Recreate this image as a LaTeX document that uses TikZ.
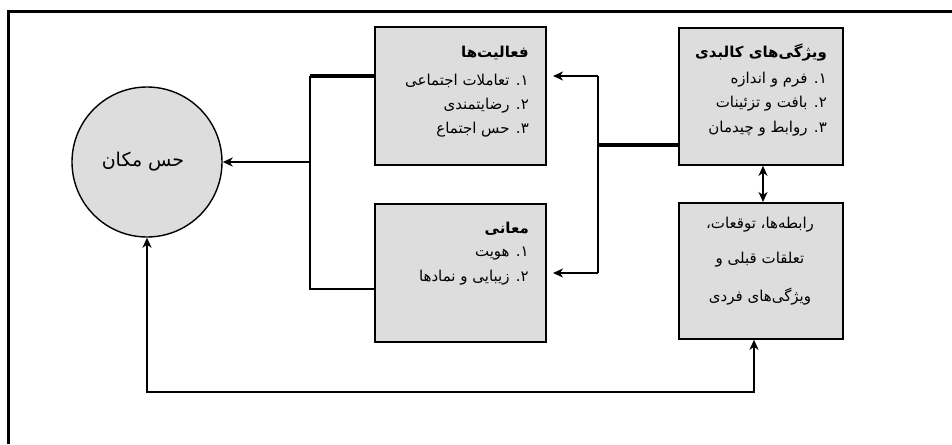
\documentclass[tikz,border=0pt]{standalone}
\usepackage{fontspec}
\usetikzlibrary{arrows.meta,calc}
\TeXXeTstate=1
\newfontfamily\fa[Script=Arabic]{DejaVu Sans}
\definecolor{boxgray}{RGB}{221,221,221}
\begin{document}
\begin{tikzpicture}[x=1pt,y=-1pt,
  box/.style={draw=black, fill=boxgray, line width=1.8pt, anchor=north west, inner sep=0pt},
  tx/.style={inner sep=0pt, font=\fa\fontsize{15}{17}\selectfont},
  ttl/.style={inner sep=0pt, font=\fa\bfseries\fontsize{15}{17}\selectfont},
  ln/.style={line width=2pt},
  thk/.style={line width=3.4pt},
  tip/.style={-{Stealth[length=10pt,width=9pt,inset=3pt]}},
  bothtip/.style={{Stealth[length=10pt,width=9pt,inset=3pt]}-{Stealth[length=10pt,width=9pt,inset=3pt]}}
]
\useasboundingbox (0,0) rectangle (952,444);
\fill[white] (0,0) rectangle (952,444);
\draw[line width=3pt] (8,444) -- (8,12) -- (952,12);

% boxes
\node[box, minimum width=171pt, minimum height=138pt] (act) at (374,26) {};
\node[box, minimum width=171pt, minimum height=138pt] (mean) at (374,203) {};
\node[box, minimum width=164pt, minimum height=137pt] (phys) at (678,27) {};
\node[box, minimum width=164pt, minimum height=136pt] (pers) at (678,202) {};
\node[circle, draw=black, fill=boxgray, line width=1.4pt, minimum size=150pt, inner sep=0pt] (sense) at (147,162) {};

% texts
\node[ttl, anchor=east] (act0) at (529,53) {\beginR فعالیت‌ها\endR};
\node[tx, anchor=east] (act1) at (529,81) {\beginR ۱. تعاملات اجتماعی\endR};
\node[tx, anchor=east] (act2) at (529,106) {\beginR ۲. رضایتمندی\endR};
\node[tx, anchor=east] (act3) at (529,130) {\beginR ۳. حس اجتماع\endR};

\node[ttl, anchor=east] (mean0) at (529,229) {\beginR معانی\endR};
\node[tx, anchor=east] (mean1) at (529,254) {\beginR ۱. هویت\endR};
\node[tx, anchor=east] (mean2) at (529,278) {\beginR ۲. زیبایی و نمادها\endR};

\node[ttl, anchor=east] (phys0) at (827,53) {\beginR ویژگی‌های کالبدی\endR};
\node[tx, anchor=east] (phys1) at (827,80) {\beginR ۱. فرم و اندازه\endR};
\node[tx, anchor=east] (phys2) at (827,104) {\beginR ۲. بافت و تزئینات\endR};
\node[tx, anchor=east] (phys3) at (827,129) {\beginR ۳. روابط و چیدمان\endR};

\node[tx] (pers1) at (760,225) {\beginR رابطه‌ها، توقعات،\endR};
\node[tx] (pers2) at (760,260) {\beginR تعلقات قبلی و\endR};
\node[tx] (pers3) at (760,297) {\beginR ویژگی‌های فردی\endR};

\node[tx, font=\fa\fontsize{19}{21}\selectfont] (sensetx) at (143,162) {\beginR حس مکان\endR};

% left bracket
\coordinate (lt) at (310,76);
\coordinate (lm) at (310,162);
\coordinate (lb) at (310,289);
\draw[thk] (act.west |- lt) -- (lt);
\draw[ln] (lt) -- (lb) -- (mean.west |- lb);
\draw[ln, tip] (lm) -- (sense.east |- lm);

% right bracket
\coordinate (rt) at (598,76);
\coordinate (rm) at (598,145);
\coordinate (rb) at (598,273);
\coordinate (ra) at (553,76);
\coordinate (rc) at (553,273);
\draw[thk] (phys.west |- rm) -- (rm);
\draw[ln] (rt) -- (rb);
\draw[ln, tip] (rt) -- (ra);
\draw[ln, tip] (rb) -- (rc);

% double arrow between right boxes
\coordinate (dx) at (763,0);
\draw[ln, bothtip] (phys.south -| dx) -- (pers.north -| dx);

% bottom loop
\coordinate (bl) at (147,392);
\coordinate (br) at (754,392);
\draw[ln, bothtip] (sense.south) -- (bl) -- (br) -- (pers.south -| br);
\end{tikzpicture}
\end{document}
